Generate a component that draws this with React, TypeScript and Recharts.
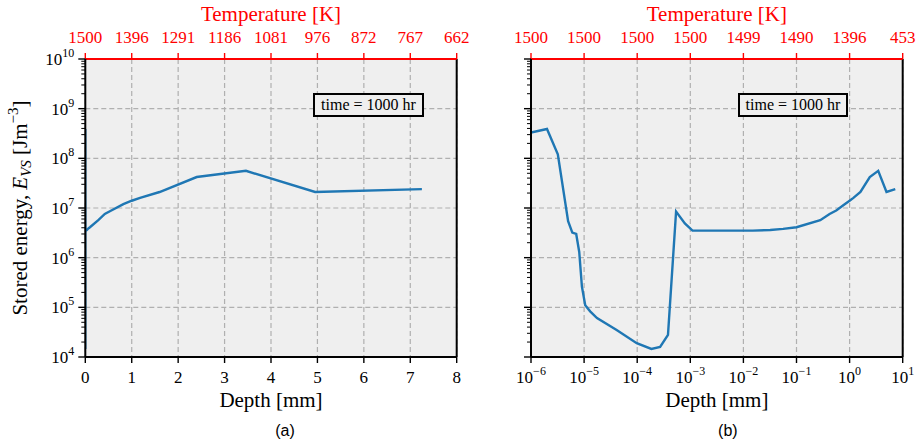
import { LineChart, Line, XAxis, YAxis, CartesianGrid, ReferenceLine, Label } from "recharts";

// depth below the surface [mm] and stored energy [J/m^3]
const DEPTH_MM = [
  1e-6, 2.0e-6, 3.2e-6, 5.0e-6, 6.0e-6, 7.1e-6, 8.1e-6, 9.1e-6, 1.05e-5, 1.3e-5, 1.75e-5, 4.1e-5,
  9.8e-5, 1.85e-4, 2.7e-4, 3.8e-4, 5.4e-4, 7.9e-4, 1.1e-3, 1.5e-2, 0.032, 0.056, 0.1, 0.28, 0.42,
  0.56, 0.82, 1.0, 1.18, 1.6, 2.4, 3.46, 4.95, 7.25,
];
const ENERGY = [
  3.3e8, 3.9e8, 1.2e8, 5.4e6, 3.2e6, 3.0e6, 1.3e6, 2.6e5, 1.1e5, 8.3e4, 6.1e4, 3.5e4,
  1.9e4, 1.45e4, 1.6e4, 2.8e4, 8.5e6, 4.9e6, 3.5e6, 3.5e6, 3.6e6, 3.8e6, 4.1e6, 5.7e6, 7.6e6,
  8.9e6, 1.2e7, 1.4e7, 1.6e7, 2.1e7, 4.2e7, 5.6e7, 2.1e7, 2.4e7,
];

const LIN_TICKS = [0, 1, 2, 3, 4, 5, 6, 7, 8];
const LOG_TICKS = [1e-6, 1e-5, 1e-4, 1e-3, 1e-2, 1e-1, 1, 10];
const TEMP_LIN = ["1500", "1396", "1291", "1186", "1081", "976", "872", "767", "662"];
const TEMP_LOG = ["1500", "1500", "1500", "1500", "1499", "1490", "1396", "453"];
const Y_MAJOR = [1e4, 1e5, 1e6, 1e7, 1e8, 1e9, 1e10];

const Y_ALL: number[] = [];
Y_MAJOR.forEach((m, i) => {
  Y_ALL.push(m);
  if (i < Y_MAJOR.length - 1) for (let k = 2; k <= 9; k++) Y_ALL.push(m * k);
});

const rows = DEPTH_MM.map((d, i) => ({ depth: d, energy: ENERGY[i] }));

const SERIF = '"Liberation Serif", "Times New Roman", serif';
const SANS = '"Liberation Sans", Arial, sans-serif';
const RED = "#ff0000";
const BLUE = "#1f77b4";

const expText = (v: number) => {
  const e = Math.round(Math.log10(v));
  return e < 0 ? "\u2212" + Math.abs(e) : String(e);
};

function YTick({ x, y, payload, showLabels }: any) {
  const v = payload.value;
  const e = Math.round(Math.log10(v));
  const major = Math.abs(v - Math.pow(10, e)) < 1e-6 * v;
  return (
    <g>
      <line x1={x - (major ? 7 : 4)} x2={x} y1={y} y2={y} stroke="#000" strokeWidth={major ? 1.4 : 1} />
      {major && showLabels && (
        <text x={x - 11} y={y + 6} textAnchor="end" fontSize={17} fontFamily={SERIF} fill="#000">
          10<tspan fontSize={12} dy={-8}>{expText(v)}</tspan>
        </text>
      )}
    </g>
  );
}

function LinTick({ x, y, payload }: any) {
  return (
    <g>
      <line x1={x} x2={x} y1={y} y2={y + 6} stroke="#000" strokeWidth={1.4} />
      <text x={x} y={y + 26} textAnchor="middle" fontSize={17} fontFamily={SERIF} fill="#000">
        {payload.value}
      </text>
    </g>
  );
}

function LogTick({ x, y, payload }: any) {
  return (
    <g>
      <line x1={x} x2={x} y1={y} y2={y + 6} stroke="#000" strokeWidth={1.4} />
      <text x={x} y={y + 26} textAnchor="middle" fontSize={17} fontFamily={SERIF} fill="#000">
        10<tspan fontSize={12} dy={-8}>{expText(payload.value)}</tspan>
      </text>
    </g>
  );
}

function TopTick({ x, y, payload, labels, ticks }: any) {
  const i = ticks.indexOf(payload.value);
  return (
    <g>
      <line x1={x} x2={x} y1={y - 6} y2={y} stroke={RED} strokeWidth={1.4} />
      <text x={x} y={y - 16} textAnchor="middle" fontSize={17} fontFamily={SERIF} fill={RED}>
        {labels[i]}
      </text>
    </g>
  );
}

const tempLabel = (p: any) => {
  const vb = p.viewBox;
  return (
    <text x={vb.x + vb.width / 2} y={vb.y + vb.height - 38} textAnchor="middle" fontSize={21} fontFamily={SERIF} fill={RED}>
      Temperature [K]
    </text>
  );
};

const depthLabel = (caption: string, shift: number) => (p: any) => {
  const vb = p.viewBox;
  const cx = vb.x + vb.width / 2;
  return (
    <g>
      <text x={cx} y={vb.y + 50} textAnchor="middle" fontSize={21} fontFamily={SERIF} fill="#000">
        Depth [mm]
      </text>
      <text x={cx + shift} y={vb.y + 79} textAnchor="middle" fontSize={16} fontFamily={SANS} fill="#000">
        {caption}
      </text>
    </g>
  );
};

const energyLabel = (p: any) => {
  const vb = p.viewBox;
  const cx = vb.x + 1.7;
  const cy = vb.y + vb.height / 2;
  return (
    <text transform={`rotate(-90 ${cx} ${cy})`} x={cx} y={cy} textAnchor="middle" fontSize={21} fontFamily={SERIF} fill="#000">
      Stored energy, <tspan fontStyle="italic">E</tspan>
      <tspan fontStyle="italic" fontSize={15} dy={4}>VS</tspan>
      <tspan dy={-4}> [Jm</tspan>
      <tspan fontSize={15} dy={-9}>{"\u22123"}</tspan>
      <tspan dy={9}>]</tspan>
    </text>
  );
};

function Panel({ log }: { log: boolean }) {
  const ticks = log ? LOG_TICKS : LIN_TICKS;
  const domain = log ? [1e-6, 10] : [0, 8];
  return (
    <LineChart
      width={log ? 456 : 480}
      height={443}
      data={rows}
      margin={log ? { top: 4, right: 13.3, bottom: 6, left: 11 } : { top: 4, right: 23.3, bottom: 6, left: 25.3 }}
    >
      <CartesianGrid
        fill="#efefef"
        fillOpacity={1}
        stroke="#b0b0b0"
        strokeWidth={1.2}
        strokeDasharray="5 3"
        horizontalValues={Y_MAJOR}
        verticalValues={ticks}
      />
      <XAxis
        dataKey="depth"
        type="number"
        scale={log ? "log" : "linear"}
        domain={domain}
        ticks={ticks}
        interval={0}
        allowDataOverflow
        height={80}
        tickLine={false}
        tickSize={0}
        tickMargin={0}
        axisLine={{ stroke: "#000", strokeWidth: 2 }}
        tick={log ? <LogTick /> : <LinTick />}
      >
        <Label content={depthLabel(log ? "(b)" : "(a)", log ? 11 : 14)} />
      </XAxis>
      <XAxis
        xAxisId="top"
        dataKey="depth"
        orientation="top"
        type="number"
        scale={log ? "log" : "linear"}
        domain={domain}
        ticks={ticks}
        interval={0}
        allowDataOverflow
        height={55}
        tickLine={false}
        tickSize={0}
        tickMargin={0}
        axisLine={{ stroke: RED, strokeWidth: 2 }}
        tick={<TopTick labels={log ? TEMP_LOG : TEMP_LIN} ticks={ticks} />}
      >
        <Label content={tempLabel} />
      </XAxis>
      <YAxis
        type="number"
        scale="log"
        domain={[1e4, 1e10]}
        ticks={Y_ALL}
        interval={0}
        allowDataOverflow
        width={60}
        tickLine={false}
        tickSize={0}
        tickMargin={0}
        axisLine={{ stroke: "#000", strokeWidth: 2 }}
        tick={<YTick showLabels={!log} />}
      >
        {!log && <Label content={energyLabel} />}
      </YAxis>
      <Line dataKey="energy" stroke={BLUE} strokeWidth={2.4} dot={false} isAnimationActive={false} />
      <ReferenceLine x={log ? 10 : 8} stroke="#000" strokeWidth={2} />
    </LineChart>
  );
}

const boxStyle = {
  position: "absolute" as const,
  top: 93,
  height: 24,
  border: "2px solid #000",
  background: "#efefef",
  fontFamily: SERIF,
  fontSize: 16,
  lineHeight: "20px",
  textAlign: "center" as const,
  boxSizing: "border-box" as const,
  color: "#000",
};

export default function App() {
  return (
    <div style={{ position: "absolute", left: 0, top: 0, width: 916, height: 443, background: "#fff" }}>
      <div style={{ position: "absolute", left: 0, top: 0 }}>
        <Panel log={false} />
      </div>
      <div style={{ position: "absolute", left: 460, top: 0 }}>
        <Panel log />
      </div>
      <div style={{ ...boxStyle, left: 313, width: 111 }}>time = 1000 hr</div>
      <div style={{ ...boxStyle, left: 738, width: 110 }}>time = 1000 hr</div>
    </div>
  );
}
